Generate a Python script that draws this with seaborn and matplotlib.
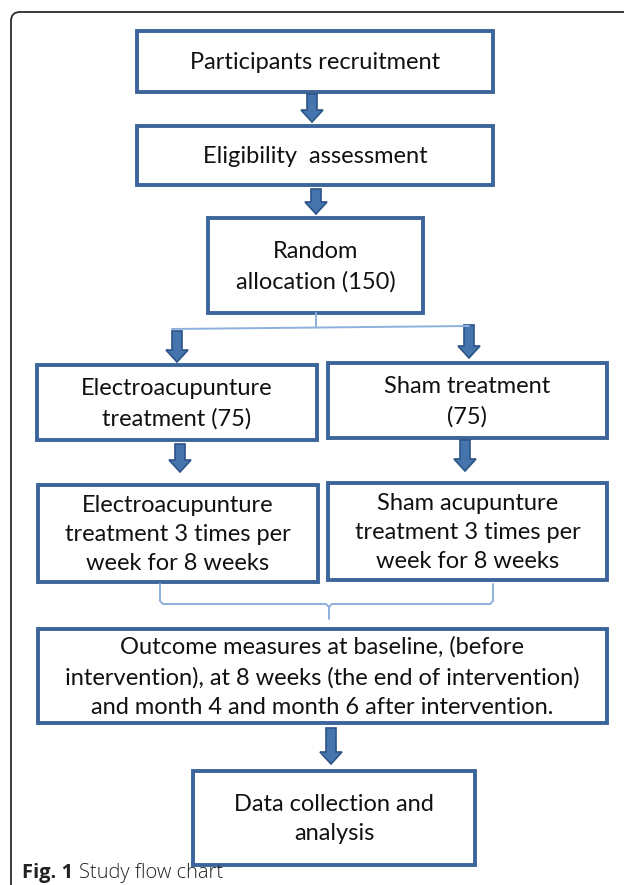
import matplotlib
matplotlib.use("Agg")
import matplotlib.pyplot as plt
from matplotlib.patches import Rectangle, Polygon, FancyBboxPatch
import seaborn as sns

# Box labels (top to bottom, left to right)
labels = [
    "Participants recruitment",
    "Eligibility  assessment",
    "Random\nallocation (150)",
    "Electroacupunture\ntreatment (75)",
    "Sham treatment\n(75)",
    "Electroacupunture\ntreatment 3 times per\nweek for 8 weeks",
    "Sham acupunture\ntreatment 3 times per\nweek for 8 weeks",
    "Outcome measures at baseline, (before\nintervention), at 8 weeks (the end of intervention)\nand month 4 and month 6 after intervention.",
    "Data collection and\nanalysis",
]
caption_bold = "Fig. 1"
caption_text = "Study flow chart"

# layout in pixels (x0, y0, x1, y1), y grows downward
box_pos = [
    (137, 31, 493, 92),
    (137, 126, 493, 185),
    (208, 218, 423, 313),
    (37, 365, 317, 440),
    (328, 363, 607, 438),
    (38, 485, 318, 582),
    (328, 483, 607, 580),
    (38, 629, 607, 723),
    (193, 771, 475, 865),
]
# arrows: (center x, top y, tip y)
arrow_pos = [
    (312, 94, 122),
    (316, 189, 214),
    (177, 331, 362),
    (469, 325, 358),
    (180, 444, 472),
    (465, 440, 471),
    (331, 728, 764),
]

sns.set_theme(style="white")
plt.rcParams["font.family"] = ["Lato", "DejaVu Sans"]

W, H = 624, 885
fig = plt.figure(figsize=(W / 100, H / 100), dpi=100)
ax = fig.add_axes([0, 0, 1, 1])
ax.set_xlim(0, W)
ax.set_ylim(H, 0)
ax.axis("off")

edge = "#3c659b"
arrow_fill = "#4675ad"
arrow_edge = "#2c5487"
thin = "#8db0dc"

# outer frame with rounded top-left corner
frame = FancyBboxPatch((11, 12), 700, 1000, boxstyle="round,pad=0,rounding_size=9",
                       fill=False, ec="#2b2b2b", lw=1.3)
ax.add_patch(frame)

for text, (x0, y0, x1, y1) in zip(labels, box_pos):
    ax.add_patch(Rectangle((x0, y0), x1 - x0, y1 - y0, fill=False, ec=edge, lw=2.8))
    ax.text((x0 + x1) / 2, (y0 + y1) / 2 + 1, text, ha="center", va="center",
            fontsize=17, color="#111111", linespacing=1.5)

for cx, top, tip in arrow_pos:
    sw, hw, hl = 5, 11, 12
    pts = [(cx - sw, top), (cx + sw, top), (cx + sw, tip - hl), (cx + hw, tip - hl),
           (cx, tip), (cx - hw, tip - hl), (cx - sw, tip - hl)]
    ax.add_patch(Polygon(pts, closed=True, fc=arrow_fill, ec=arrow_edge, lw=1.2))

# split connector under the random allocation box
ax.plot([316, 316], [313, 327], color=thin, lw=1.4)
ax.plot([172, 469], [329, 326], color=thin, lw=1.4)

# bracket joining the two arms
ax.plot([160, 160, 163], [584, 601, 604], color=thin, lw=1.4)
ax.plot([493, 493, 490], [584, 601, 604], color=thin, lw=1.4)
ax.plot([163, 326, 329, 332, 490], [604, 604, 607, 604, 604], color=thin, lw=1.4)
ax.plot([329, 329], [607, 619], color=thin, lw=1.4)

ax.text(22, 873, caption_bold, ha="left", va="center", fontsize=14.5,
        fontweight="bold", family=["Open Sans", "DejaVu Sans"], color="#222222")
ax.text(79, 873, caption_text, ha="left", va="center", fontsize=14.5,
        fontweight="light", family=["Open Sans", "DejaVu Sans"], color="#222222")

fig.savefig("out.png", dpi=100)
